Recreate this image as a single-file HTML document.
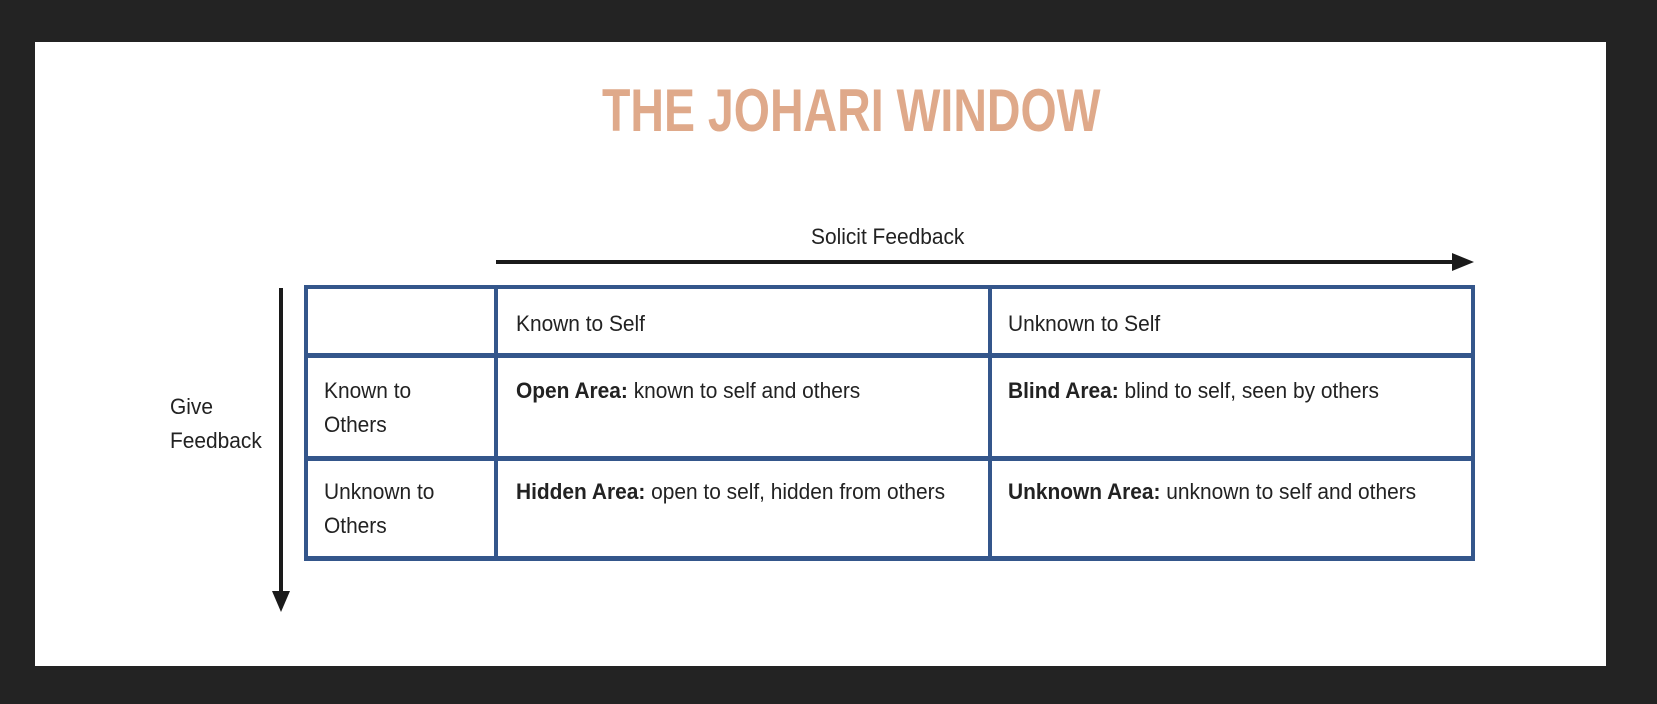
<!DOCTYPE html>
<html><head><style>
body{margin:0;width:1657px;height:704px;background:#232323;position:relative;overflow:hidden;font-family:"Liberation Sans",sans-serif;}
.panel{position:absolute;left:35px;top:42px;width:1571px;height:624px;background:#fff;}
.t{position:absolute;white-space:nowrap;transform:scaleX(0.95);transform-origin:0 0;font-size:22px;color:#222;line-height:34px;}
.h{position:absolute;background:#34568b;}
</style></head><body>
<div class="panel"></div>
<div style="position:absolute;left:602px;top:76px;width:594px;white-space:nowrap;font-size:60px;font-weight:bold;color:#dfa98a;transform:scaleX(0.775);transform-origin:0 0;">THE JOHARI WINDOW</div>
<div class="t" style="left:811px;top:220px;">Solicit Feedback</div>
<svg style="position:absolute;left:0;top:0" width="1657" height="704">
<line x1="496" y1="262" x2="1458" y2="262" stroke="#1a1a1a" stroke-width="4"/>
<polygon points="1474,262 1452,253 1452,271" fill="#1a1a1a"/>
<line x1="281" y1="288" x2="281" y2="596" stroke="#1a1a1a" stroke-width="4"/>
<polygon points="281,612 272,591 290,591" fill="#1a1a1a"/>
</svg>
<div class="h" style="left:304px;top:285px;width:1171px;height:4px"></div>
<div class="h" style="left:304px;top:353px;width:1171px;height:5px"></div>
<div class="h" style="left:304px;top:456px;width:1171px;height:5px"></div>
<div class="h" style="left:304px;top:556px;width:1171px;height:5px"></div>
<div class="h" style="left:304px;top:285px;width:4px;height:276px"></div>
<div class="h" style="left:494px;top:285px;width:4px;height:276px"></div>
<div class="h" style="left:988px;top:285px;width:4px;height:276px"></div>
<div class="h" style="left:1471px;top:285px;width:4px;height:276px"></div>
<div class="t" style="left:516px;top:307px;">Known to Self</div>
<div class="t" style="left:1008px;top:307px;">Unknown to Self</div>
<div class="t" style="left:324px;top:374px;">Known to<br>Others</div>
<div class="t" style="left:324px;top:475px;">Unknown to<br>Others</div>
<div class="t" style="left:170px;top:390px;">Give<br>Feedback</div>
<div class="t" style="left:516px;top:374px;"><b>Open Area:</b> known to self and others</div>
<div class="t" style="left:1008px;top:374px;"><b>Blind Area:</b> blind to self, seen by others</div>
<div class="t" style="left:516px;top:475px;"><b>Hidden Area:</b> open to self, hidden from others</div>
<div class="t" style="left:1008px;top:475px;"><b>Unknown Area:</b> unknown to self and others</div>
</body></html>
